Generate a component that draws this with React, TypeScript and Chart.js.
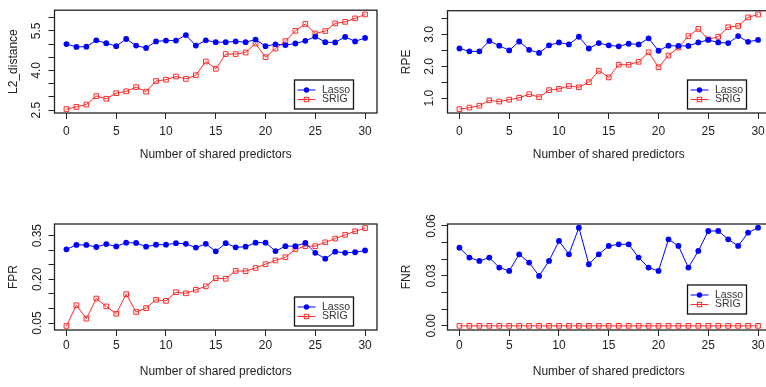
import React, { useEffect, useRef } from 'react';
import { Chart, registerables } from 'chart.js';

Chart.register(...registerables);
Chart.defaults.font.family = '"Liberation Sans", Arial, Helvetica, sans-serif';

// ---------- data ----------
const xShared = [0, 1, 2, 3, 4, 5, 6, 7, 8, 9, 10, 11, 12, 13, 14, 15, 16, 17, 18, 19, 20, 21, 22, 23, 24, 25, 26, 27, 28, 29, 30];
const xTicks = [0, 5, 10, 15, 20, 25, 30];
const xTitle = 'Number of shared predictors';
const seriesNames = ['Lasso', 'SRIG'];

const l2Lasso = [5.0, 4.89, 4.9, 5.14, 5.03, 4.92, 5.19, 4.94, 4.85, 5.1, 5.13, 5.13, 5.34, 4.94, 5.14, 5.07, 5.07, 5.1, 5.07, 5.17, 4.92, 4.99, 4.96, 5.02, 5.12, 5.28, 5.07, 5.06, 5.27, 5.1, 5.23];
const l2Srig = [2.54, 2.62, 2.71, 3.03, 2.93, 3.14, 3.21, 3.37, 3.2, 3.6, 3.65, 3.77, 3.68, 3.82, 4.34, 4.06, 4.62, 4.62, 4.68, 5.02, 4.5, 4.83, 5.11, 5.5, 5.76, 5.4, 5.49, 5.78, 5.84, 5.97, 6.12];
const l2YTicks = [2.5, 3, 3.5, 4, 4.5, 5, 5.5, 6];
const l2YLabels = ['2.5', '4.0', '5.5'];

const rpeLasso = [2.56, 2.47, 2.47, 2.8, 2.65, 2.5, 2.78, 2.52, 2.42, 2.66, 2.75, 2.69, 2.93, 2.56, 2.73, 2.66, 2.63, 2.71, 2.69, 2.88, 2.49, 2.65, 2.64, 2.64, 2.75, 2.83, 2.75, 2.73, 2.95, 2.77, 2.83];
const rpeSrig = [0.65, 0.7, 0.76, 0.93, 0.89, 0.95, 1.01, 1.12, 1.03, 1.25, 1.29, 1.38, 1.34, 1.5, 1.86, 1.65, 2.05, 2.05, 2.14, 2.44, 1.97, 2.34, 2.59, 2.95, 3.18, 2.85, 2.93, 3.23, 3.27, 3.54, 3.63];
const rpeYTicks = [1, 1.5, 2, 2.5, 3, 3.5];
const rpeYLabels = ['1.0', '2.0', '3.0'];

const fprLasso = [0.303, 0.318, 0.318, 0.311, 0.321, 0.313, 0.326, 0.325, 0.312, 0.319, 0.319, 0.324, 0.322, 0.309, 0.322, 0.296, 0.324, 0.31, 0.312, 0.326, 0.326, 0.297, 0.314, 0.314, 0.325, 0.291, 0.271, 0.295, 0.291, 0.293, 0.299];
const fprSrig = [0.04, 0.111, 0.065, 0.134, 0.107, 0.082, 0.149, 0.088, 0.101, 0.13, 0.126, 0.156, 0.152, 0.164, 0.176, 0.204, 0.202, 0.229, 0.228, 0.239, 0.252, 0.265, 0.276, 0.303, 0.314, 0.314, 0.327, 0.34, 0.353, 0.365, 0.376];
const fprYTicks = [0.05, 0.1, 0.15, 0.2, 0.25, 0.3, 0.35];
const fprYLabels = ['0.05', '0.20', '0.35'];

const fnrLasso = [0.047, 0.041, 0.039, 0.041, 0.035, 0.033, 0.043, 0.038, 0.03, 0.039, 0.051, 0.043, 0.059, 0.037, 0.043, 0.048, 0.049, 0.049, 0.041, 0.035, 0.033, 0.052, 0.048, 0.035, 0.045, 0.057, 0.057, 0.052, 0.048, 0.056, 0.059];
const fnrSrig = [0, 0, 0, 0, 0, 0, 0, 0, 0, 0, 0, 0, 0, 0, 0, 0, 0, 0, 0, 0, 0, 0, 0, 0, 0, 0, 0, 0, 0, 0, 0];
const fnrYTicks = [0, 0.01, 0.02, 0.03, 0.04, 0.05, 0.06];
const fnrYLabels = ['0.00', '0.03', '0.06'];

// ---------- styling ----------
const INK = '#222';
const BLUE = '#0000ff';
const RED = '#ff2a2a';
const CW = 383;

const framePlugin = {
  id: 'boxLegend',
  afterDatasetsDraw(chart: any, _args: any, opts: any) {
    const { ctx, chartArea } = chart;
    ctx.save();
    ctx.strokeStyle = INK;
    ctx.lineWidth = 1.3;
    ctx.strokeRect(chartArea.left, chartArea.top, chartArea.right - chartArea.left, chartArea.bottom - chartArea.top);
    const w = 59;
    const h = 29;
    const left = chartArea.right - opts.right - w;
    const top = chartArea.bottom - opts.bottom - h;
    ctx.fillStyle = '#fff';
    ctx.fillRect(left, top, w, h);
    ctx.strokeStyle = '#111';
    ctx.lineWidth = 1.3;
    ctx.strokeRect(left, top, w, h);
    chart.data.datasets.forEach((ds: any, i: number) => {
      const y = top + 10 + i * 9.5;
      ctx.strokeStyle = ds.borderColor;
      ctx.lineWidth = 1;
      ctx.beginPath();
      ctx.moveTo(left + 3, y);
      ctx.lineTo(left + 21, y);
      ctx.stroke();
      if (ds.pointStyle === 'rect') {
        ctx.strokeRect(left + 12 - 2.2, y - 2.2, 4.4, 4.4);
      } else {
        ctx.fillStyle = ds.borderColor;
        ctx.beginPath();
        ctx.arc(left + 12, y, 2.7, 0, Math.PI * 2);
        ctx.fill();
      }
      ctx.fillStyle = '#333';
      ctx.font = '10.5px "Liberation Sans", Arial, sans-serif';
      ctx.textAlign = 'left';
      ctx.textBaseline = 'middle';
      ctx.fillText(ds.label, left + 27.5, y);
    });
    ctx.restore();
  },
};

type PanelProps = {
  left: number;
  top: number;
  height: number;
  padTop: number;
  yTitle: string;
  lasso: number[];
  srig: number[];
  yMin: number;
  yMax: number;
  yTicks: number[];
  yLabels: string[];
  yTickPad: number;
  xTickPad: number;
  legendBottom: number;
};

function Panel(p: PanelProps) {
  const ref = useRef<HTMLCanvasElement>(null);
  useEffect(() => {
    if (!ref.current) return;
    const chart = new Chart(ref.current, {
      type: 'line',
      data: {
        datasets: [
          {
            label: seriesNames[0],
            data: xShared.map((x, i) => ({ x, y: p.lasso[i] })),
            borderColor: BLUE,
            backgroundColor: BLUE,
            borderWidth: 1,
            pointStyle: 'circle',
            pointRadius: 2.9,
            pointBorderWidth: 0,
            pointBackgroundColor: BLUE,
            tension: 0,
          },
          {
            label: seriesNames[1],
            data: xShared.map((x, i) => ({ x, y: p.srig[i] })),
            borderColor: RED,
            backgroundColor: 'rgba(255,255,255,0)',
            borderWidth: 1,
            pointStyle: 'rect',
            pointRadius: 3.3,
            pointBorderWidth: 1,
            pointBorderColor: RED,
            pointBackgroundColor: 'rgba(255,255,255,0)',
            tension: 0,
          },
        ],
      },
      options: {
        animation: false,
        responsive: false,
        devicePixelRatio: 1,
        layout: { padding: { top: p.padTop, right: 6, left: 0, bottom: 0 } },
        plugins: {
          legend: { display: false },
          tooltip: { enabled: false },
          boxLegend: { right: 23.5, bottom: p.legendBottom },
        } as any,
        scales: {
          x: {
            type: 'linear',
            min: -1.2,
            max: 31.2,
            afterBuildTicks: (s: any) => {
              s.ticks = xTicks.map((v) => ({ value: v }));
            },
            afterFit: (s: any) => {
              s.height = 59;
            },
            border: { display: false },
            grid: { drawOnChartArea: false, drawTicks: true, tickLength: 6, tickColor: INK, tickWidth: 1 },
            ticks: {
              autoSkip: false,
              maxRotation: 0,
              minRotation: 0,
              padding: p.xTickPad,
              color: INK,
              font: { size: 12 },
              callback: (v: any) => String(v),
            },
            title: {
              display: true,
              text: xTitle,
              color: INK,
              font: { size: 12 },
              padding: { top: 0, bottom: 9.8 },
            },
          },
          y: {
            type: 'linear',
            min: p.yMin,
            max: p.yMax,
            afterBuildTicks: (s: any) => {
              s.ticks = p.yTicks.map((v) => ({ value: v }));
            },
            afterFit: (s: any) => {
              s.width = 54.5;
            },
            border: { display: false },
            grid: { drawOnChartArea: false, drawTicks: true, tickLength: 6, tickColor: INK, tickWidth: 1 },
            ticks: {
              autoSkip: false,
              minRotation: 90,
              maxRotation: 90,
              crossAlign: 'center',
              padding: p.yTickPad,
              color: INK,
              font: { size: 12 },
              callback: (v: any) => {
                const s = p.yLabels.find((l) => Math.abs(parseFloat(l) - Number(v)) < 1e-9);
                return s ?? '';
              },
            },
            title: {
              display: true,
              text: p.yTitle,
              color: INK,
              font: { size: 12 },
              padding: { top: 6.5, bottom: 0 },
            },
          },
        },
      },
      plugins: [framePlugin],
    } as any);
    return () => chart.destroy();
  }, []);
  return (
    <canvas
      ref={ref}
      width={CW}
      height={p.height}
      style={{ position: 'absolute', left: p.left, top: p.top, width: CW, height: p.height }}
    />
  );
}

export default function App() {
  useEffect(() => {
    document.body.style.margin = '0';
  }, []);
  return (
    <div style={{ position: 'fixed', left: 0, top: 0, width: 766, height: 387, overflow: 'hidden', background: '#fff' }}>
      <Panel left={0} top={0} height={172} padTop={7} yTitle="L2_distance" lasso={l2Lasso} srig={l2Srig} yMin={2.39} yMax={6.28} yTicks={l2YTicks} yLabels={l2YLabels} yTickPad={3} xTickPad={5.8} legendBottom={4} />
      <Panel left={393} top={0} height={172} padTop={7} yTitle="RPE" lasso={rpeLasso} srig={rpeSrig} yMin={0.53} yMax={3.75} yTicks={rpeYTicks} yLabels={rpeYLabels} yTickPad={3.5} xTickPad={5.8} legendBottom={4} />
      <Panel left={0} top={195} height={194} padTop={29} yTitle="FPR" lasso={fprLasso} srig={fprSrig} yMin={0.026} yMax={0.39} yTicks={fprYTicks} yLabels={fprYLabels} yTickPad={-1} xTickPad={2} legendBottom={4} />
      <Panel left={393} top={195} height={194} padTop={29} yTitle="FNR" lasso={fnrLasso} srig={fnrSrig} yMin={-0.0025} yMax={0.0612} yTicks={fnrYTicks} yLabels={fnrYLabels} yTickPad={-1.5} xTickPad={2} legendBottom={16} />
    </div>
  );
}
